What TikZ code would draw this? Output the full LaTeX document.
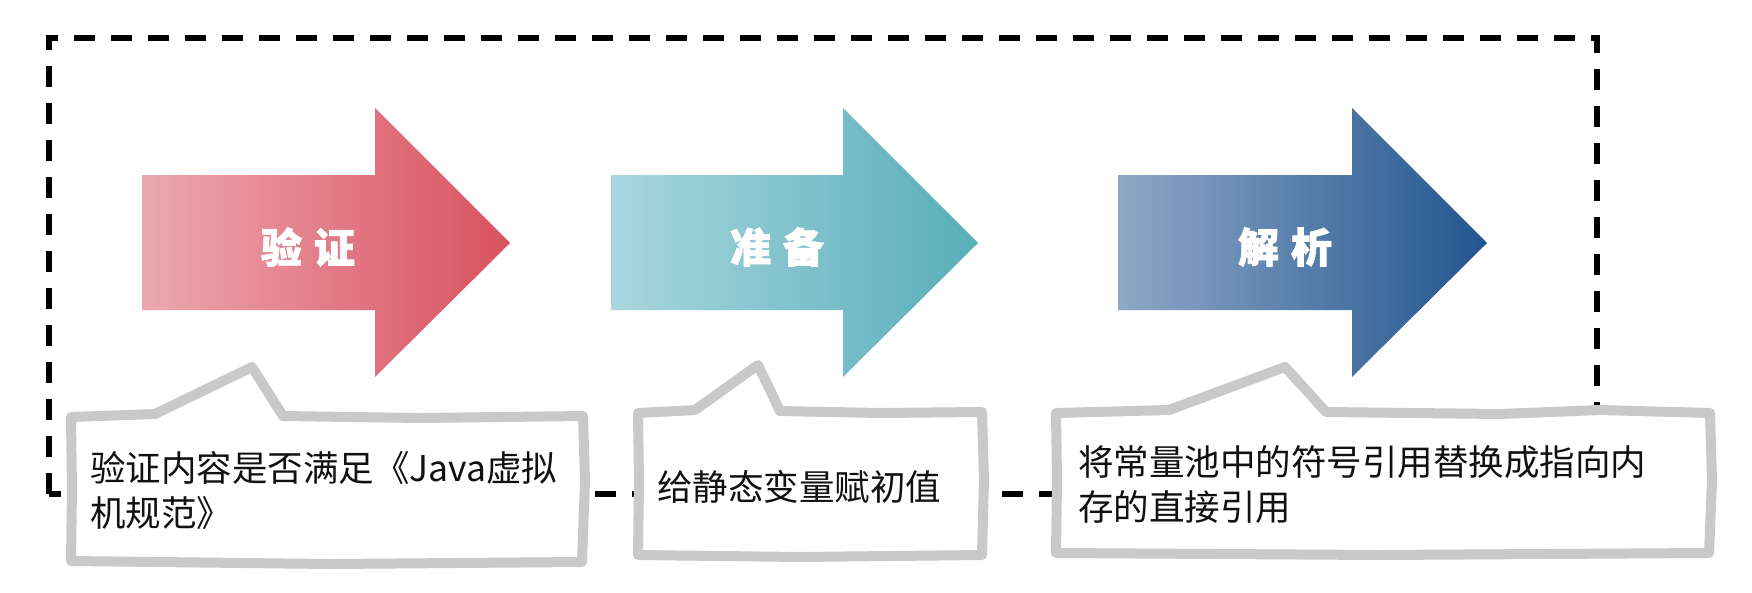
\documentclass[tikz,border=0pt]{standalone}
\usepackage{fontspec}
\newfontfamily\cjk{Noto Sans CJK SC}
\newfontfamily\cjkheavy{Noto Sans CJK SC}[FakeBold=2]
\definecolor{calloutgray}{HTML}{C9C9C9}
\definecolor{redA}{HTML}{ECA8B1}
\definecolor{redB}{HTML}{D9515F}
\definecolor{tealA}{HTML}{A9D6DE}
\definecolor{tealB}{HTML}{58AEBA}
\definecolor{blueA}{HTML}{8EA8C6}
\definecolor{blueB}{HTML}{22558F}
\definecolor{txt}{HTML}{111111}
\begin{document}
\begin{tikzpicture}[x=1pt,y=-1pt,
  frame/.style={draw=black,line width=6pt,dash pattern=on 21pt off 16pt},
  callout/.style={draw=calloutgray,line width=10pt,fill=white,line join=round,line cap=round},
  arrowlabel/.style={text=white,font=\cjkheavy\bfseries\fontsize{41}{41}\selectfont,inner sep=0pt},
  calltext/.style={font=\cjk\fontsize{35.5}{45}\selectfont,text=txt,align=left,inner sep=0pt,anchor=west}]
\useasboundingbox (0,0) rectangle (1752,592);
% dashed frame
\draw[frame] (49,494) -- (49,38) -- (1597,38) -- (1597,494) -- cycle;
% arrows
\shade[left color=redA,right color=redB]
  (142,175) -- (375,175) -- (375,108) -- (510,243) -- (375,377) -- (375,310) -- (142,310) -- cycle;
\shade[left color=tealA,right color=tealB]
  (611,175) -- (843,175) -- (843,108) -- (978,243) -- (843,377) -- (843,310) -- (611,310) -- cycle;
\shade[left color=blueA,right color=blueB]
  (1118,175) -- (1352,175) -- (1352,108) -- (1487,243) -- (1352,377) -- (1352,310) -- (1118,310) -- cycle;
\node[arrowlabel] (verify) at (308,247) {验\hspace{12pt}证};
\node[arrowlabel] (prepare) at (777,247) {准\hspace{12pt}备};
\node[arrowlabel] (resolve) at (1285,247) {解\hspace{12pt}析};
% callouts
\draw[callout] (71,417) -- (155,414) -- (252,367) -- (283,416) -- (420,418) -- (583,416)
  -- (585,480) -- (582,562) -- (330,564) -- (71,561) -- (72,490) -- cycle;
\draw[callout] (638,413) -- (695,410) -- (758,365) -- (780,411) -- (880,413) -- (982,412)
  -- (984,480) -- (982,555) -- (800,557) -- (638,555) -- (639,480) -- cycle;
\draw[callout] (1056,413) -- (1169,410) -- (1285,367) -- (1326,412) -- (1500,414) -- (1600,410) -- (1710,413)
  -- (1712,480) -- (1709,553) -- (1380,555) -- (1056,553) -- (1057,480) -- cycle;
% callout texts
\node[calltext] (t1) at (90,490) {验证内容是否满足《Java虚拟\\机规范》};
\node[calltext] (t2) at (657,487) {给静态变量赋初值};
\node[calltext] (t3) at (1078,485) {将常量池中的符号引用替换成指向内\\存的直接引用};
\end{tikzpicture}
\end{document}
